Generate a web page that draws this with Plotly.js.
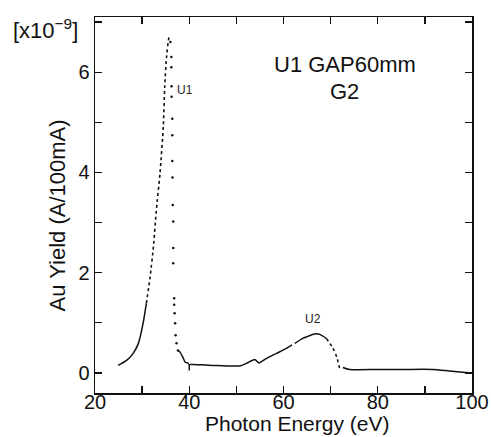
<!DOCTYPE html>
<html>
<head>
<meta charset="utf-8">
<script src="https://cdn.plot.ly/plotly-3.0.1.min.js"></script>
<style>html,body{margin:0;padding:0;background:#fff;}#chart{width:491px;height:437px;}</style>
</head>
<body>
<div id="chart"></div>
<script>
// Rising edge of the U1 peak, drawn as a solid line
const riseSolidE = [24.9, 26.7, 28.1, 29.2, 30.2, 30.9];
const riseSolidY = [0.15, 0.25, 0.39, 0.59, 0.99, 1.39];
// Rising edge, densely dotted part up to the peak
const riseDotE = [30.9, 31.7, 32.4, 33.0, 33.8, 34.5, 34.8, 35.2, 35.7, 35.9];
const riseDotY = [1.39, 1.92, 2.52, 3.22, 3.99, 4.92, 5.72, 6.32, 6.69, 6.71];
// Falling edge of the U1 peak: sparse dots
const fallE = [36.0, 36.2, 36.2, 36.25, 36.25, 36.4, 36.4, 36.4, 36.45, 36.5, 36.6, 36.6, 36.6, 36.8, 36.8, 36.9, 37.0, 37.1, 37.3, 37.6];
const fallY = [6.60, 6.30, 6.10, 5.72, 5.51, 5.07, 4.74, 4.23, 3.90, 3.35, 3.02, 2.49, 2.19, 1.49, 1.36, 1.19, 0.99, 0.75, 0.59, 0.45];
// Tail after the U1 peak
const tailE = [37.6, 38.0, 38.6, 39.1, 39.6, 39.9];
const tailY = [0.45, 0.42, 0.32, 0.22, 0.20, 0.18];
// Short glitch near 40 eV
const glitchE = [40.0, 40.0];
const glitchY = [0.18, 0.05];
// Flat region and rise toward U2
const midE = [40.2, 40.8, 45.0, 50.7, 52.1, 53.9, 54.8, 56.4, 58.5, 60.6, 61.8];
const midY = [0.17, 0.17, 0.15, 0.14, 0.19, 0.27, 0.20, 0.29, 0.39, 0.49, 0.56];
// U2 peak (solid)
const u2E = [62.4, 64.1, 65.2, 66.3, 67.0, 67.7, 69.1];
const u2Y = [0.59, 0.69, 0.73, 0.77, 0.78, 0.77, 0.69];
// U2 falling edge (dotted)
const u2FallE = [69.1, 70.5, 71.3, 72.0];
const u2FallY = [0.69, 0.49, 0.32, 0.05];
// High-energy tail
const highE = [72.6, 74.0, 80.0, 85.0, 91.7, 95.2, 99.8];
const highY = [0.11, 0.07, 0.07, 0.07, 0.07, 0.04, 0.00];

// Tick values and labels
const xTicks = [20, 40, 60, 80, 100];
const xTickText = ['20', '40', '60', '80', '100'];
const xMinorTicks = [30, 50, 70, 90];
const yTicks = [0, 2, 4, 6];
const yTickText = ['0', '2', '4', '6'];
const yMinorTicks = [1, 3, 5, 7];

const FONT = 'Liberation Sans, Arial, Helvetica, sans-serif';
const solid = {color: '#111', width: 1.5, shape: 'spline', smoothing: 0.6};
const dotted = {color: '#111', width: 1.6, dash: 'dot', shape: 'spline', smoothing: 0.6};

const traces = [
  {x: riseSolidE, y: riseSolidY, mode: 'lines', line: solid},
  {x: riseDotE, y: riseDotY, mode: 'lines', line: dotted},
  {x: fallE, y: fallY, mode: 'markers', marker: {color: '#111', size: 2.5}},
  {x: tailE, y: tailY, mode: 'lines', line: solid},
  {x: glitchE, y: glitchY, mode: 'lines', line: {color: '#111', width: 1.5}},
  {x: midE, y: midY, mode: 'lines', line: solid},
  {x: u2E, y: u2Y, mode: 'lines', line: solid},
  {x: u2FallE, y: u2FallY, mode: 'lines', line: dotted},
  {x: highE, y: highY, mode: 'lines', line: solid}
];

const axisCommon = {
  showgrid: false, zeroline: false, showline: true, linecolor: '#111', linewidth: 1.5,
  ticks: 'inside', ticklen: 7, tickwidth: 1.3, tickcolor: '#111', mirror: 'ticks',
  tickfont: {family: FONT, size: 20, color: '#111'}
};
const minorCommon = {ticks: 'inside', ticklen: 7, tickwidth: 1.3, tickcolor: '#111', showgrid: false};

const layout = {
  width: 491, height: 437,
  margin: {l: 95, r: 19, t: 17, b: 44},
  paper_bgcolor: '#fff', plot_bgcolor: '#fff',
  showlegend: false,
  font: {family: FONT, color: '#111'},
  xaxis: Object.assign({}, axisCommon, {
    range: [20, 100], tickmode: 'array', tickvals: xTicks, ticktext: xTickText,
    ticklabelstandoff: -10,
    minor: Object.assign({tickmode: 'array', tickvals: xMinorTicks}, minorCommon)
  }),
  yaxis: Object.assign({}, axisCommon, {
    range: [-0.4, 7.1], tickmode: 'array', tickvals: yTicks, ticktext: yTickText,
    minor: Object.assign({tickmode: 'array', tickvals: yMinorTicks}, minorCommon)
  }),
  annotations: [
    {xref: 'paper', yref: 'paper', x: 0.535, y: -0.08, xanchor: 'center', yanchor: 'middle', showarrow: false,
     text: 'Photon Energy (eV)', font: {family: FONT, size: 21, color: '#111'}},
    {xref: 'paper', yref: 'paper', x: -0.10, y: 0.473, xanchor: 'center', yanchor: 'middle', showarrow: false,
     textangle: -90, text: 'Au Yield (A/100mA)', font: {family: FONT, size: 22, color: '#111'}},
    {xref: 'paper', yref: 'paper', x: 0.662, y: 0.875, xanchor: 'center', yanchor: 'middle', showarrow: false,
     text: 'U1 GAP60mm', font: {family: FONT, size: 22, color: '#111'}},
    {xref: 'paper', yref: 'paper', x: 0.662, y: 0.803, xanchor: 'center', yanchor: 'middle', showarrow: false,
     text: 'G2', font: {family: FONT, size: 22, color: '#111'}},
    {xref: 'x', yref: 'y', x: 39.0, y: 5.65, xanchor: 'center', yanchor: 'middle', showarrow: false,
     text: 'U1', font: {family: FONT, size: 12, color: '#222'}},
    {xref: 'x', yref: 'y', x: 66.3, y: 1.08, xanchor: 'center', yanchor: 'middle', showarrow: false,
     text: 'U2', font: {family: FONT, size: 12, color: '#222'}},
    {xref: 'paper', yref: 'paper', x: -0.222, y: 0.968, xanchor: 'left', yanchor: 'middle', showarrow: false,
     text: '[x10<sup>−9</sup>]', font: {family: FONT, size: 22, color: '#111'}}
  ]
};

Plotly.newPlot('chart', traces, layout, {displayModeBar: false, staticPlot: true});
</script>
</body>
</html>
